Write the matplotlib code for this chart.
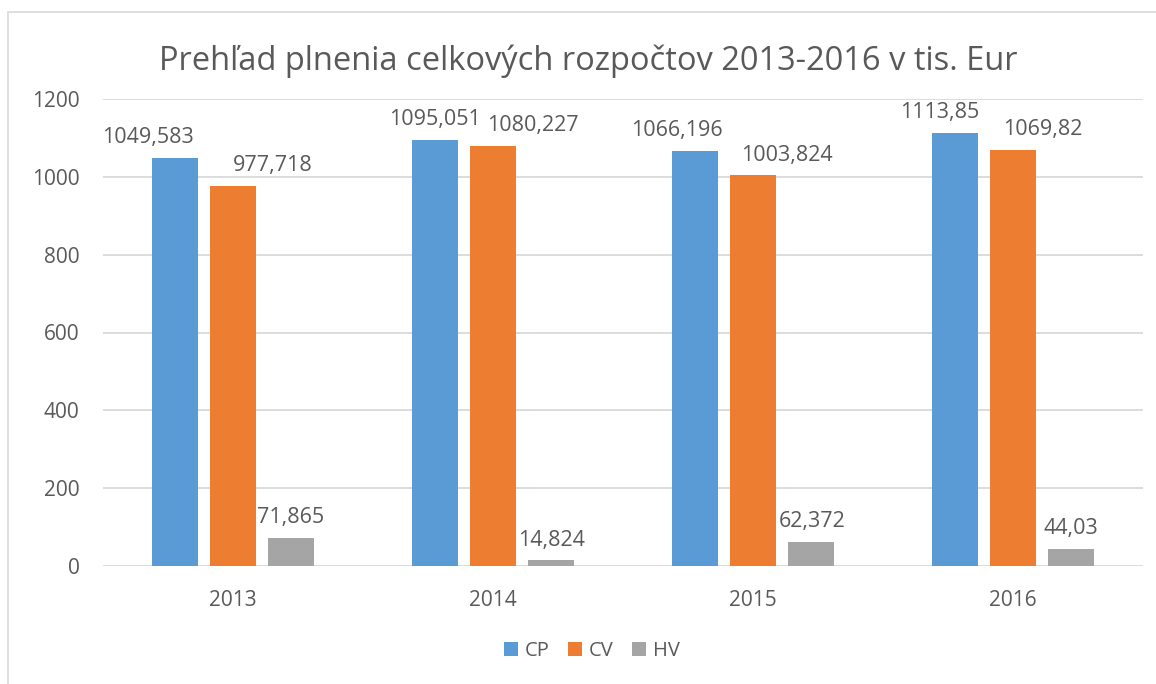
import numpy as np
import matplotlib.pyplot as plt
from matplotlib.patches import Rectangle

roky = ['2013', '2014', '2015', '2016']
cp = [1049.583, 1095.051, 1066.196, 1113.85]
cv = [977.718, 1080.227, 1003.824, 1069.82]
hv = [71.865, 14.824, 62.372, 44.03]
cp_txt = ['1049,583', '1095,051', '1066,196', '1113,85']
cv_txt = ['977,718', '1080,227', '1003,824', '1069,82']
hv_txt = ['71,865', '14,824', '62,372', '44,03']

# horizontal shift of labels (points), as dragged in the original
cp_dx = [-19.5, 0, -13, -11]
cv_dx = [28.5, 28.5, 24.5, 21.5]
hv_dx = [0, 0, 1, 0]

c_cp, c_cv, c_hv = '#5b9bd5', '#ed7d31', '#a5a5a5'
sivy = '#595959'

plt.rcParams['font.family'] = ['Open Sans', 'DejaVu Sans']

fig = plt.figure(figsize=(11.56, 6.84), dpi=100)
fig.patches.append(Rectangle((8/1156, -0.1), 1.2, 1 - 12/684 + 0.1, transform=fig.transFigure,
                             fill=False, edgecolor='#d9d9d9', linewidth=1.2))
ax = fig.add_axes([103/1156, 1 - 566/684, 1040/1156, 467/684])

x = np.arange(len(roky))
w = 46/260
off = 58/260
for hodnoty, texty, dx, farba, posun, nazov in [
        (cp, cp_txt, cp_dx, c_cp, -off, 'CP'),
        (cv, cv_txt, cv_dx, c_cv, 0, 'CV'),
        (hv, hv_txt, hv_dx, c_hv, off, 'HV')]:
    ax.bar(x + posun, hodnoty, w, color=farba, label=nazov, zorder=3)
    for i, v in enumerate(hodnoty):
        ax.annotate(texty[i], (x[i] + posun, v), xytext=(dx[i], 7), textcoords='offset points',
                    ha='center', va='bottom', fontsize=15.5, color=sivy)

ax.set_xlim(-0.5, 3.5)
ax.set_ylim(0, 1200)
ax.set_yticks(range(0, 1201, 200))
ax.set_xticks(x)
ax.set_xticklabels(roky)
ax.grid(axis='y', color='#d9d9d9', linewidth=1.3, zorder=0)
for s in ax.spines.values():
    s.set_visible(False)
ax.tick_params(length=0, labelsize=15, labelcolor=sivy)
ax.tick_params(axis='y', pad=17)
ax.tick_params(axis='x', pad=17)

fig.text(588/1156, 1 - 61/684, 'Prehľad plnenia celkových rozpočtov 2013-2016 v tis. Eur',
         ha='center', va='center', fontsize=23.5, color=sivy)

fig.legend(loc='center', bbox_to_anchor=(592/1156, 1 - 651/684), ncol=3, frameon=False,
           fontsize=14.5, labelcolor=sivy, handlelength=0.7, handleheight=0.7,
           handletextpad=0.35, columnspacing=0.9)

fig.savefig('out.png', dpi=100)
